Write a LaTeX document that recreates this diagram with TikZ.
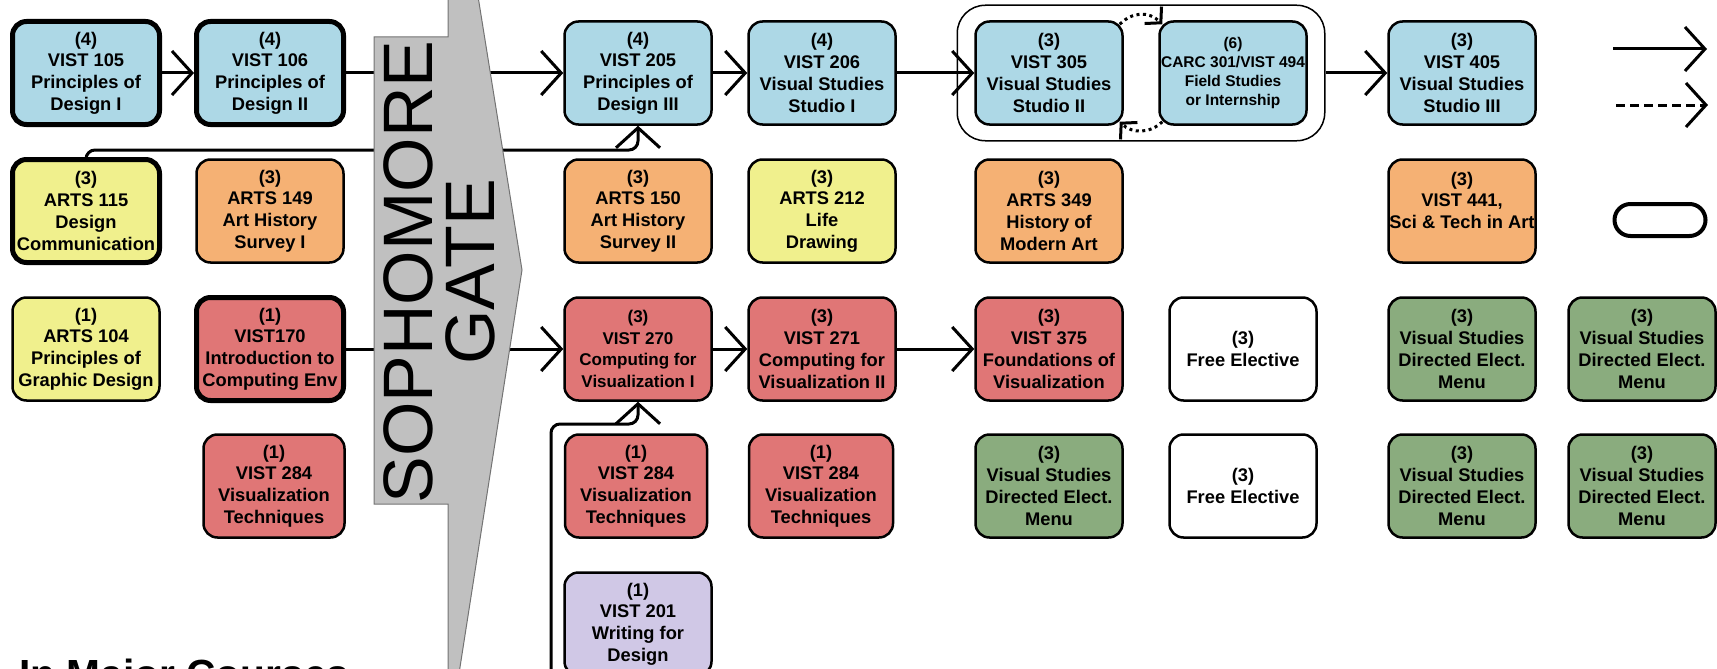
\documentclass[tikz,border=0pt]{standalone}
\usepackage{fontspec}
\setmainfont{Liberation Sans}
\usetikzlibrary{arrows.meta, fit}

\definecolor{vistblue}{RGB}{173,216,230}
\definecolor{artorange}{RGB}{245,177,116}
\definecolor{artyellow}{RGB}{240,240,141}
\definecolor{vizred}{RGB}{224,118,118}
\definecolor{dirgreen}{RGB}{138,172,126}
\definecolor{writpurple}{RGB}{208,200,230}
\definecolor{gategray}{RGB}{192,192,192}

\begin{document}
\begin{tikzpicture}[
	x = 1pt, y = -1pt,
	course/.style = {draw, rounded corners = 14pt, line width = 2.5pt, minimum width = 147pt, minimum height = 103pt,
		inner sep = 0pt, align = center, font = \bfseries\fontsize{18.3}{21.7}\selectfont},
	core/.style = {course, line width = 5pt},
	prereq/.style = {line width = 3pt, -{Straight Barb[length = 20pt, width = 44pt]}},
	coreq/.style = {line width = 3pt, dash pattern = on 3pt off 3.5pt, -{Straight Barb[length = 11pt, width = 24pt]}}
]

\useasboundingbox (0,0) rectangle (1717,669);
\clip (0,0) rectangle (1717,669);

\node[core, fill = vistblue] (v105) at (86,73) {(4)\\VIST 105\\Principles of\\Design I};
\node[core, fill = vistblue] (v106) at (270,73) {(4)\\VIST 106\\Principles of\\Design II};
\node[course, fill = vistblue] (v205) at (638,73) {(4)\\VIST 205\\Principles of\\Design III};
\node[course, fill = vistblue] (v206) at (822,73) {(4)\\VIST 206\\Visual Studies\\Studio I};
\node[course, fill = vistblue] (v305) at (1049,73) {(3)\\VIST 305\\Visual Studies\\Studio II};
\node[course, fill = vistblue, font = \bfseries\fontsize{15.5}{19}\selectfont] (carc) at (1233,73)
	{(6)\\CARC 301/VIST 494\\Field Studies\\or Internship};
\node[course, fill = vistblue] (v405) at (1462,73) {(3)\\VIST 405\\Visual Studies\\Studio III};

\node[core, fill = artyellow] (a115) at (86,211) {(3)\\ARTS 115\\Design\\Communication};
\node[course, fill = artorange] (a149) at (270,211) {(3)\\ARTS 149\\Art History\\Survey I};
\node[course, fill = artorange] (a150) at (638,211) {(3)\\ARTS 150\\Art History\\Survey II};
\node[course, fill = artyellow] (a212) at (822,211) {(3)\\ARTS 212\\Life\\Drawing};
\node[course, fill = artorange] (a349) at (1049,211) {(3)\\ARTS 349\\History of\\Modern Art};
\node[course, fill = artorange] (v441) at (1462,211) {(3)\\VIST 441,\\Sci \& Tech in Art\\\mbox{}};

\node[course, fill = artyellow] (a104) at (86,349) {(1)\\ARTS 104\\Principles of\\Graphic Design};
\node[core, fill = vizred] (v170) at (270,349) {(1)\\VIST170\\Introduction to\\Computing Env};
\node[course, fill = vizred, font = \bfseries\fontsize{17}{21.5}\selectfont] (v270) at (638,349)
	{(3)\\VIST 270\\Computing for\\Visualization I};
\node[course, fill = vizred] (v271) at (822,349) {(3)\\VIST 271\\Computing for\\Visualization II};
\node[course, fill = vizred] (v375) at (1049,349) {(3)\\VIST 375\\Foundations of\\Visualization};
\node[course, fill = white] (free1) at (1243,349) {(3)\\Free Elective};

\node[course, fill = vizred, minimum width = 141pt] (v284a) at (274,486) {(1)\\VIST 284\\Visualization\\Techniques};
\node[course, fill = vizred, minimum width = 142pt] (v284b) at (636,486) {(1)\\VIST 284\\Visualization\\Techniques};
\node[course, fill = vizred, minimum width = 144pt] (v284c) at (821,486) {(1)\\VIST 284\\Visualization\\Techniques};
\node[course, fill = white] (free2) at (1243,486) {(3)\\Free Elective};

\foreach \name/\x/\y in {vsde1/1462/349, vsde2/1642/349, vsde3/1049/486, vsde4/1462/486, vsde5/1642/486}
	\node[course, fill = dirgreen] (\name) at (\x,\y) {(3)\\Visual Studies\\Directed Elect.\\Menu};

\node[course, fill = writpurple] (v201) at (638,624) {(1)\\VIST 201\\Writing for\\Design};

\node[draw, fit = (v305) (carc), inner xsep = 17pt, inner ysep = 15pt, rounded corners = 28pt, line width = 1.5pt] (studio) {};

\foreach \from/\to in {v105/v106, v106/v205, v205/v206, v206/v305, studio/v405, v170/v270, v270/v271, v271/v375}
	\draw[prereq] (\from.east) -- (\to.west);

\draw[prereq, rounded corners = 9pt] (a115.north) -- ++(0,-7) -| (v205.south);
\coordinate (lowin) at (551,690);
\draw[prereq, rounded corners = 9pt] (lowin) -- ++(0,-266) -| (v270.south);

\draw[coreq] ([shift = {(-4,4)}]v305.north east) .. controls +(13,-13) and +(-13,-13) .. ([shift = {(4,4)}]carc.north west);
\draw[coreq] ([shift = {(4,-4)}]carc.south west) .. controls +(-12,12) and +(12,12) .. ([shift = {(-4,-4)}]v305.south east);

\filldraw[fill = gategray, draw = black!55, line width = 1pt]
	(374,37) -- (448,37) -- (448,-10) -- (477,-10) -- (522,270) -- (458,680) -- (448,680) -- (448,504) -- (374,504) -- cycle;
\node[rotate = 90, align = center, font = \fontsize{70}{62}\selectfont] (gatetext) at (439,272) {SOPHOMORE\\GATE};

\node[anchor = north west, inner sep = 0pt, font = \bfseries\fontsize{40.7}{44}\selectfont] (majorhead) at (19,659) {In Major Courses};

\coordinate (solidfrom) at (1613,49);
\coordinate (solidto) at (1707,49);
\draw[prereq] (solidfrom) -- (solidto);
\coordinate (dashfrom) at (1616,105);
\coordinate (dashto) at (1708,105);
\draw[prereq, dash pattern = on 9pt off 5pt] (dashfrom) -- (dashto);
\node[draw, line width = 4pt, rounded corners = 16pt, minimum width = 91pt, minimum height = 32pt] (capsule) at (1660,220) {};
\end{tikzpicture}
\end{document}
